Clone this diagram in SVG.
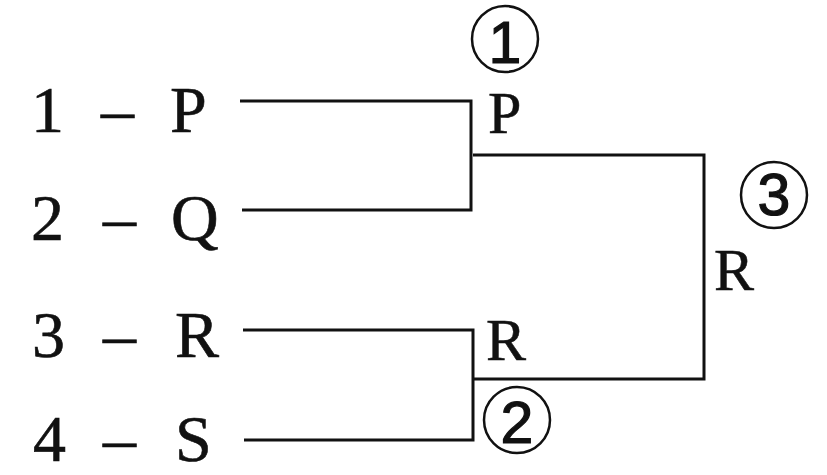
<svg xmlns="http://www.w3.org/2000/svg" width="827" height="475" viewBox="0 0 827 475">
  <style>
    .lbl { font-family: "Liberation Serif", "Times New Roman", serif; font-size: 66px; fill: #111; stroke: #111; stroke-width: 0.6; }
    .win { font-family: "Liberation Serif", "Times New Roman", serif; font-size: 60px; fill: #111; stroke: #111; stroke-width: 0.5; }
    .num { font-family: "Liberation Sans", Arial, sans-serif; font-size: 59px; fill: #111; stroke: #111; stroke-width: 1.2; text-anchor: middle; }
    .ring { fill: none; stroke: #111; stroke-width: 2.5; }
    .wire { fill: none; stroke: #111; stroke-width: 3; stroke-linejoin: miter; }
  </style>
  <rect width="827" height="475" fill="#fff"/>

  <!-- bracket lines -->
  <g id="connectors">
    <polyline class="wire" points="240,101 471,101 471,210 242,210"/>
    <polyline class="wire" points="243,330 473,330 473,440 244,440"/>
    <polyline class="wire" points="473,155 704,155 704,379 473,379"/>
  </g>

  <!-- entrants -->
  <g id="team-1">
    <text class="lbl" y="132"><tspan x="31">1</tspan><tspan x="101">–</tspan><tspan x="170">P</tspan></text>
  </g>
  <g id="team-2">
    <text class="lbl" y="240"><tspan x="31">2</tspan><tspan x="103">–</tspan><tspan x="171">Q</tspan></text>
  </g>
  <g id="team-3">
    <text class="lbl" y="357"><tspan x="32">3</tspan><tspan x="103">–</tspan><tspan x="175">R</tspan></text>
  </g>
  <g id="team-4">
    <text class="lbl" y="461"><tspan x="33">4</tspan><tspan x="103">–</tspan><tspan x="175">S</tspan></text>
  </g>

  <!-- match winners -->
  <g id="winner-1">
    <text class="win" x="488" y="133">P</text>
  </g>
  <g id="winner-2">
    <text class="win" x="486" y="360">R</text>
  </g>
  <g id="winner-3">
    <text class="win" x="714" y="290">R</text>
  </g>

  <!-- match numbers -->
  <g id="match-1">
    <circle class="ring" cx="505" cy="39" r="33"/>
    <text class="num" x="505" y="63">1</text>
  </g>
  <g id="match-2">
    <circle class="ring" cx="517" cy="420" r="33"/>
    <text class="num" x="517" y="443">2</text>
  </g>
  <g id="match-3">
    <circle class="ring" cx="774" cy="195" r="33"/>
    <text class="num" x="774" y="215">3</text>
  </g>
</svg>
